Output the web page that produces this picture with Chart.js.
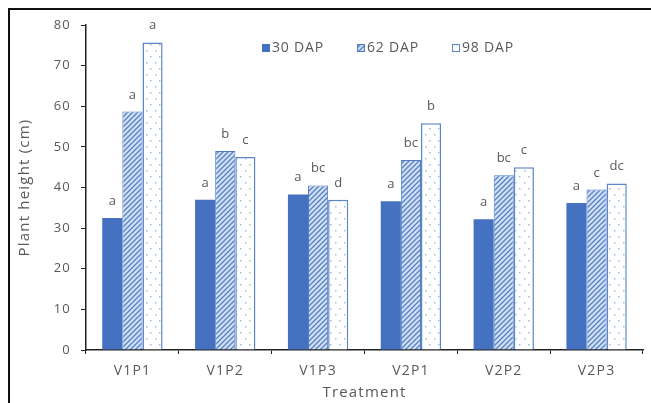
<!DOCTYPE html>
<html>
<head>
<meta charset="utf-8">
<script src="https://cdn.jsdelivr.net/npm/chart.js@4"></script>
<style>
  body { margin: 0; background: #fff; }
  canvas { display: block; }
</style>
</head>
<body>
<canvas id="heightChart" width="651" height="403"></canvas>
<script>
const treatments = ['V1P1', 'V1P2', 'V1P3', 'V2P1', 'V2P2', 'V2P3'];
const seriesNames = ['30 DAP', '62 DAP', '98 DAP'];
const dap30 = [32.5, 37.0, 38.3, 36.6, 32.2, 36.2];
const dap62 = [58.7, 49.0, 40.5, 46.8, 43.0, 39.5];
const dap98 = [75.7, 47.5, 37.0, 55.8, 45.0, 41.0];
const letters30 = ['a', 'a', 'a', 'a', 'a', 'a'];
const letters62 = ['a', 'b', 'bc', 'bc', 'bc', 'c'];
const letters98 = ['a', 'c', 'd', 'b', 'c', 'dc'];
const yTicks = [0, 10, 20, 30, 40, 50, 60, 70, 80];

const textGray = '#595959';
const fontName = "'Open Sans', 'Liberation Sans', sans-serif";

// hatch pattern for 62 DAP
function makeHatch() {
  const c = document.createElement('canvas');
  c.width = 5; c.height = 5;
  const g = c.getContext('2d');
  g.fillStyle = '#d3dff2';
  g.fillRect(0, 0, 5, 5);
  g.strokeStyle = '#5482c6';
  g.lineWidth = 1.3;
  g.beginPath();
  g.moveTo(-1, 6); g.lineTo(6, -1);
  g.moveTo(-1, 1); g.lineTo(1, -1);
  g.moveTo(4, 6); g.lineTo(6, 4);
  g.stroke();
  return g.createPattern(c, 'repeat');
}

// sparse dots for 98 DAP
function makeDots() {
  const c = document.createElement('canvas');
  c.width = 9; c.height = 12;
  const g = c.getContext('2d');
  g.fillStyle = '#ffffff';
  g.fillRect(0, 0, 9, 12);
  g.fillStyle = '#a4b9de';
  g.fillRect(2, 2, 1.5, 1.5);
  g.fillRect(6, 8, 1.5, 1.5);
  return g.createPattern(c, 'repeat');
}

const hatch = makeHatch();
const dots = makeDots();

const frame = {
  id: 'frame',
  beforeDraw(chart) {
    const ctx = chart.ctx;
    ctx.letterSpacing = '1.2px';  // the picture's text is stretched wide
    ctx.save();
    ctx.fillStyle = '#fff';
    ctx.fillRect(0, 0, chart.width, chart.height);
    ctx.strokeStyle = '#111';
    ctx.lineWidth = 2;
    ctx.beginPath();
    ctx.moveTo(9, chart.height);
    ctx.lineTo(9, 9);
    ctx.lineTo(chart.width, 9);
    ctx.stroke();
    ctx.restore();
  }
};

const letterLabels = {
  id: 'letterLabels',
  afterDatasetsDraw(chart) {
    const ctx = chart.ctx;
    ctx.save();
    ctx.letterSpacing = '0px';
    ctx.font = '13px ' + fontName;
    ctx.fillStyle = textGray;
    ctx.textAlign = 'center';
    ctx.textBaseline = 'alphabetic';
    chart.data.datasets.forEach((ds, i) => {
      chart.getDatasetMeta(i).data.forEach((bar, j) => {
        ctx.fillText(ds.letters[j], bar.x, bar.y - 13);
      });
    });
    ctx.restore();
  }
};

const boxLegend = {
  id: 'boxLegend',
  afterDraw(chart) {
    const ctx = chart.ctx;
    ctx.save();
    ctx.letterSpacing = '0.8px';
    ctx.font = '14px ' + fontName;
    ctx.textBaseline = 'middle';
    let x = 262;
    const y = 48;
    chart.data.datasets.forEach(ds => {
      ctx.fillStyle = ds.backgroundColor;
      ctx.fillRect(x, y - 4, 8, 8);
      ctx.strokeStyle = ds.borderColor;
      ctx.lineWidth = 1;
      ctx.strokeRect(x + 0.5, y - 3.5, 7, 7);
      ctx.fillStyle = textGray;
      ctx.fillText(ds.label, x + 10, y);
      x += 95;
    });
    ctx.restore();
  }
};

new Chart(document.getElementById('heightChart').getContext('2d'), {
  type: 'bar',
  data: {
    labels: treatments,
    datasets: [
      { label: seriesNames[0], data: dap30, letters: letters30,
        backgroundColor: '#4472c0', borderColor: '#4472c0', borderWidth: 0 },
      { label: seriesNames[1], data: dap62, letters: letters62,
        backgroundColor: hatch, borderColor: '#4f7cc2', borderWidth: 1 },
      { label: seriesNames[2], data: dap98, letters: letters98,
        backgroundColor: dots, borderColor: '#5b86c8', borderWidth: 1.5 }
    ]
  },
  options: {
    responsive: false,
    animation: false,
    categoryPercentage: 0.65,
    barPercentage: 1.0,
    layout: { padding: { top: 25, right: 8, left: 0, bottom: 0 } },
    plugins: {
      legend: { display: false },
      tooltip: { enabled: false }
    },
    scales: {
      x: {
        afterFit(scale) { scale.height = 53; },
        border: { color: '#222', width: 1.5 },
        grid: { drawOnChartArea: false, drawTicks: true, tickLength: 4, color: '#222' },
        ticks: { color: textGray, font: { family: fontName, size: 14 }, padding: 9 },
        title: { display: true, text: 'Treatment', color: textGray,
                 font: { family: fontName, size: 15 }, padding: { top: 0, bottom: 1 } }
      },
      y: {
        min: 0,
        max: 80,
        afterFit(scale) { scale.width = 86; },
        afterBuildTicks(scale) { scale.ticks = yTicks.map(v => ({ value: v })); },
        border: { color: '#222', width: 1.5 },
        grid: { drawOnChartArea: false, drawTicks: true, tickLength: 5, color: '#222' },
        ticks: { color: textGray, font: { family: fontName, size: 13 }, padding: 10 },
        title: { display: true, text: 'Plant height (cm)', color: textGray,
                 font: { family: fontName, size: 15 }, padding: { top: 16, bottom: 0 } }
      }
    }
  },
  plugins: [frame, letterLabels, boxLegend]
});
</script>
</body>
</html>
